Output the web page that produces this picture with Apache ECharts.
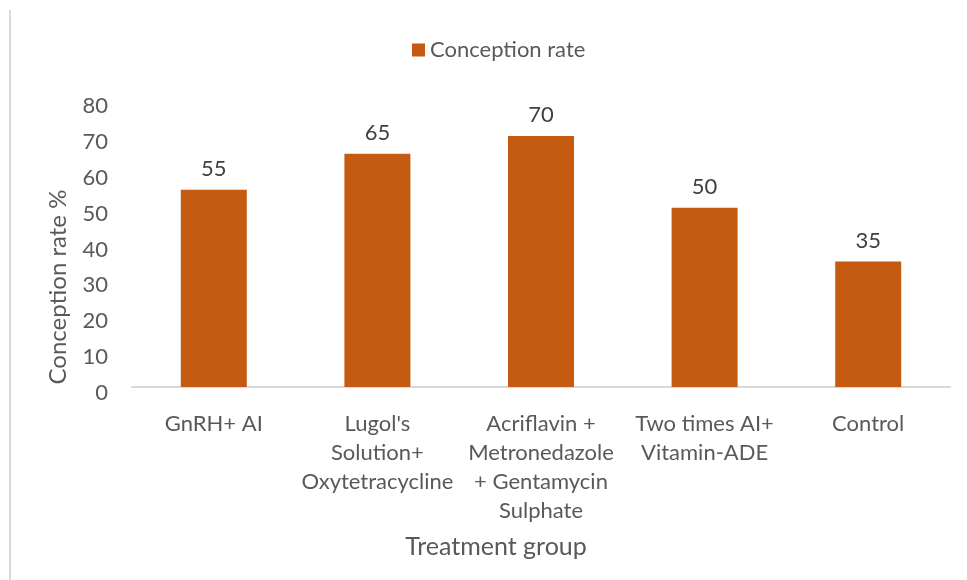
<!DOCTYPE html>
<html>
<head>
<meta charset="utf-8">
<script src="https://cdn.jsdelivr.net/npm/echarts@6/dist/echarts.min.js"></script>
<style>
html,body{margin:0;padding:0;background:#fff;}
#chart{width:967px;height:580px;}
</style>
</head>
<body>
<div id="chart"></div>
<script>
var categories = [
  "GnRH+ AI",
  "Lugol's\nSolution+\nOxytetracycline",
  "Acriflavin +\nMetronedazole\n+ Gentamycin\nSulphate",
  "Two times AI+\nVitamin-ADE",
  "Control"
];
var conceptionRate = [55, 65, 70, 50, 35];
var yTicks = [0, 10, 20, 30, 40, 50, 60, 70, 80];
var seriesName = "Conception rate";
var xTitle = "Treatment group";
var yTitle = "Conception rate %";

var FONT = "Lato";
var TXT = "#595959";
var chart = echarts.init(document.getElementById('chart'), null, {renderer: 'canvas'});
chart.setOption({
  animation: false,
  backgroundColor: '#fff',
  textStyle: {fontFamily: FONT, color: TXT},
  legend: {
    top: 39,
    left: 412,
    padding: 0,
    icon: 'rect',
    itemWidth: 13,
    itemHeight: 13,
    itemGap: 6,
    data: [seriesName],
    textStyle: {fontFamily: FONT, fontSize: 22, color: TXT}
  },
  grid: {left: 132, right: 17, top: 100, bottom: 193, containLabel: false},
  xAxis: {
    type: 'category',
    data: categories,
    axisLine: {show: true, lineStyle: {color: '#D9D9D9', width: 2}},
    axisTick: {show: false},
    axisLabel: {
      interval: 0,
      margin: 22,
      fontFamily: FONT,
      fontSize: 22,
      lineHeight: 29,
      color: TXT,
      align: 'center'
    }
  },
  yAxis: {
    type: 'value',
    min: yTicks[0],
    max: yTicks[yTicks.length - 1],
    interval: 10,
    splitLine: {show: false},
    axisLine: {show: false},
    axisTick: {show: false},
    axisLabel: {
      margin: 24,
      fontFamily: FONT,
      fontSize: 22,
      color: TXT,
      verticalAlign: 'top',
      lineHeight: 12
    }
  },
  series: [{
    name: seriesName,
    type: 'bar',
    data: conceptionRate,
    barWidth: 66,
    itemStyle: {color: '#C55A11'},
    label: {
      show: true,
      position: 'top',
      distance: 10,
      fontFamily: FONT,
      fontSize: 22,
      color: '#404040'
    }
  }],
  graphic: [
    {
      type: 'line',
      shape: {x1: 10, y1: 10, x2: 10, y2: 580},
      style: {stroke: '#D9D9D9', lineWidth: 2}
    },
    {
      type: 'text',
      x: 58,
      y: 287,
      rotation: Math.PI / 2,
      style: {
        text: yTitle,
        fontFamily: FONT,
        fontSize: 24,
        fill: TXT,
        textAlign: 'center',
        textVerticalAlign: 'middle'
      }
    },
    {
      type: 'text',
      x: 496,
      y: 547,
      style: {
        text: xTitle,
        fontFamily: FONT,
        fontSize: 25,
        fill: TXT,
        textAlign: 'center',
        textVerticalAlign: 'middle'
      }
    }
  ]
});
</script>
</body>
</html>
